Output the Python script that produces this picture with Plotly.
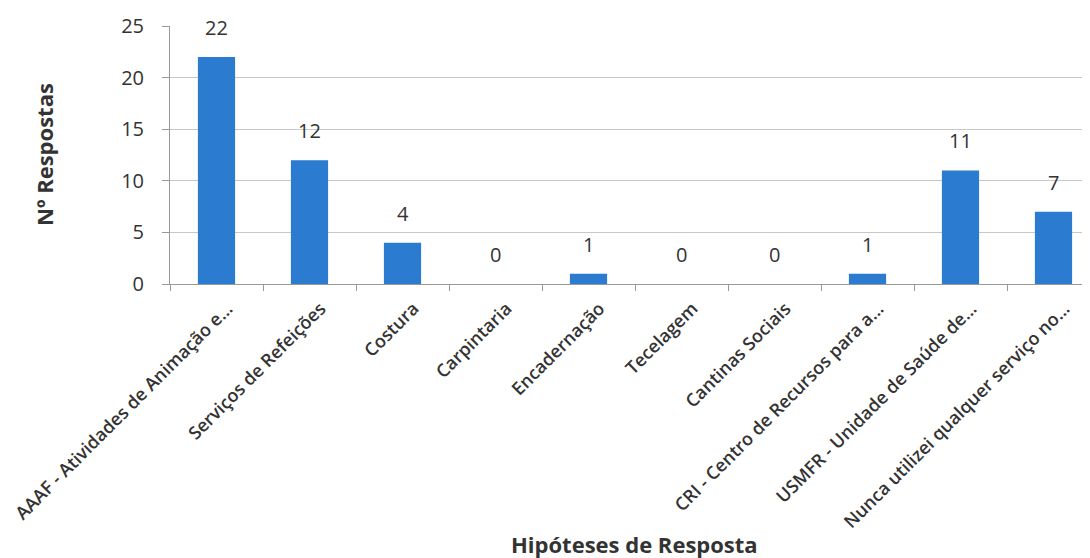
import plotly.graph_objects as go

categories = [
    "AAAF - Atividades de Animação e...",
    "Serviços de Refeições",
    "Costura",
    "Carpintaria",
    "Encadernação",
    "Tecelagem",
    "Cantinas Sociais",
    "CRI - Centro de Recursos para a...",
    "USMFR - Unidade de Saúde de...",
    "Nunca utilizei qualquer serviço no...",
]
values = [22, 12, 4, 0, 1, 0, 0, 1, 11, 7]
y_ticks = [0, 5, 10, 15, 20, 25]

FONT = "Open Sans"
TXT = "#333333"

fig = go.Figure()
fig.add_trace(go.Bar(
    x=categories, y=values,
    marker=dict(color="#2b7bd1", line=dict(width=0)),
    width=0.4,
    hoverinfo="skip",
))

for c, v in zip(categories, values):
    fig.add_annotation(x=c, y=v, text=str(v), showarrow=False,
                       yanchor="bottom", yshift=14,
                       font=dict(family=FONT, size=20, color=TXT))

fig.add_annotation(xref="paper", yref="paper", x=0.505, y=0, yshift=-260,
                   text="<b>Hipóteses de Resposta</b>", showarrow=False,
                   yanchor="middle", xanchor="center",
                   font=dict(family=FONT, size=22, color=TXT))
fig.add_annotation(xref="paper", yref="paper", x=0, y=0.5, xshift=-126,
                   text="<b>Nº Respostas</b>", showarrow=False, textangle=-90,
                   xanchor="center", yanchor="middle",
                   font=dict(family=FONT, size=22, color=TXT))

fig.update_layout(
    width=1082, height=550,
    margin=dict(l=162, r=0, t=18, b=274),
    paper_bgcolor="white", plot_bgcolor="white",
    showlegend=False,
    font=dict(family=FONT, color=TXT),
)
fig.update_xaxes(
    type="category", range=[-0.5, 9.5 - 10 / 93], automargin=False,
    tickangle=-45, tickfont=dict(family=FONT, size=18, color=TXT, weight=600),
    ticks="outside", ticklen=6, tickcolor="#999999", tickson="boundaries",
    ticklabelshift=11, ticklabelstandoff=6,
    showline=True, linecolor="#999999", linewidth=1, showgrid=False,
)
fig.update_yaxes(
    range=[0, 25], tickvals=y_ticks, automargin=False,
    tickfont=dict(family=FONT, size=20, color=TXT),
    ticks="outside", ticklen=7, tickcolor="#999999", ticklabelstandoff=14,
    showline=True, linecolor="#999999", linewidth=1,
    showgrid=True, gridcolor="#c8c8c8", gridwidth=1, zeroline=False,
)

fig.write_html("out.html")
